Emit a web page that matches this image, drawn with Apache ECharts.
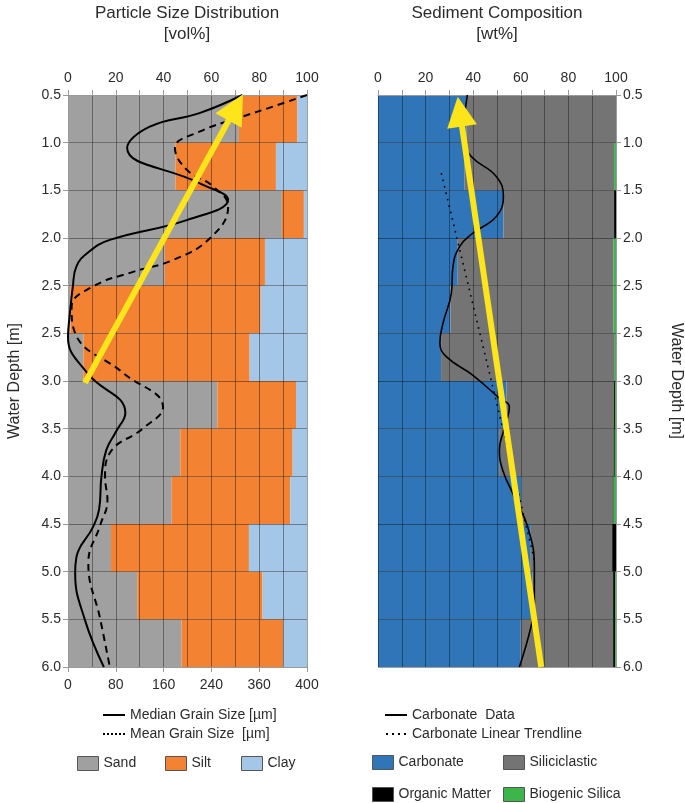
<!DOCTYPE html>
<html>
<head>
<meta charset="utf-8">
<script src="https://cdn.jsdelivr.net/npm/echarts@6/dist/echarts.min.js"></script>
<style>html,body{margin:0;padding:0;background:#fff;}#c{width:685px;height:803px;}</style>
</head>
<body>
<div id="c"></div>
<script>
// ---------- data ----------
const depthLabels = ['0.5','1.0','1.5','2.0','2.5','2.5','3.0','3.5','4.0','4.5','5.0','5.5','6.0'];
const intervals = ['i1','i2','i3','i4','i5','i6','i7','i8','i9','i10','i11','i12'];
const grainTicks = ['0','80','160','240','360','400'];

// Particle size distribution [vol%]
const sand = [71.5, 45, 89.5, 40.5, 1, 6.5, 62.5, 47, 43.4, 18, 29, 47.5];
const silt = [24.5, 42, 9.2, 41.9, 79.6, 69.5, 32.9, 47, 49.6, 57.7, 52.4, 42.5];
const clay = [4, 13, 1.3, 17.6, 19.4, 24, 4.6, 6, 7, 24.3, 18.6, 10];

// Grain size curves (depth position in interval units, size in µm)
const medianDepth = [0, 0.38, 0.67, 1.11, 1.85, 2.2, 2.62, 3.04, 3.3, 3.6, 4.03, 4.6, 5.08, 5.83, 6.67, 7.07, 7.45, 8.0, 8.7, 9.06, 9.7, 10.03, 11.0, 12.0];
const medianSize  = [292, 220, 136, 99, 220, 268, 200, 70, 34, 14, 8, 3, 0, 32, 96, 80, 64, 56, 52, 42, 14, 12, 28, 60];
const meanDepth = [0, 0.24, 0.47, 0.77, 1.11, 1.57, 1.92, 2.34, 3.0, 3.46, 3.71, 4.03, 4.45, 5.0, 5.83, 6.55, 6.99, 7.51, 8.01, 8.5, 9.02, 9.82, 11.0, 12.0];
const meanSize  = [400, 344, 288, 220, 179, 199, 243, 268, 238, 176, 109, 40, 6, 12, 92, 159, 126, 70, 62, 66, 54, 34, 54, 70];

// Sediment composition [wt%]
const carbonate     = [37.2, 36.4, 52.7, 33.5, 30.4, 26.5, 54, 50.9, 60.3, 64.2, 64.9, 60];
const siliciclastic = [62.8, 62.8, 46.5, 65.5, 68.6, 73, 45.2, 48.1, 38.3, 34.2, 33.9, 38.8];
const organic       = [0, 0, 0.8, 0, 0, 0, 0.4, 0.5, 0.4, 1.6, 0.8, 0.8];
const biosilica     = [0, 0.8, 0, 1, 1, 0.5, 0.4, 0.5, 1.0, 0, 0.4, 0.4];

const carbDepth = [0, 0.94, 1.29, 1.71, 2.13, 2.55, 2.9, 3.18, 3.6, 4.16, 4.79, 5.2, 5.49, 5.88, 6.36, 6.54, 6.89, 7.45, 7.87, 8.43, 9.06, 9.9, 10.66, 11.15, 12];
const carbValue = [37.5, 36, 39.2, 49.7, 52.7, 49.7, 39.9, 34.3, 31.5, 30.8, 27.3, 26, 28.7, 39.9, 51, 55.2, 53.8, 51, 52.4, 57.3, 62.9, 65.7, 65.7, 64.3, 59.4];
const trendDepth = [1.64, 9.75];
const trendValue = [26.6, 65.7];

// Annotation arrows (value %, depth position): tail, head
const arrowLeft  = [[7.1, 6.04], [70.2, 0.26]];
const arrowRight = [[68.6, 12], [34.4, 0.35]];

// ---------- chart ----------
const FONT = '"Liberation Sans", Arial, sans-serif';
const TXT = '#2b2b2b';
const C = {sand:'#a0a0a0', silt:'#f38232', clay:'#a4c6e7', carb:'#2f75b7', sili:'#747474', om:'#000000', bsi:'#3cb54a', yellow:'#fde41b'};
const gridLine = {show:true, lineStyle:{color:'rgba(0,0,0,0.38)', width:1}};

const ICON_SOLID = 'path://M0,0h22v2h-22z';
const ICON_DOTS6 = 'path://M0,0h2v2h-2zM4,0h2v2h-2zM8,0h2v2h-2zM12,0h2v2h-2zM16,0h2v2h-2zM20,0h2v2h-2z';
const ICON_DOTS4 = 'path://M0,0h2v2h-2zM6,0h2v2h-2zM12,0h2v2h-2zM18,0h2v2h-2z';

const zip = (a,b) => a.map((v,i)=>[v,b[i]]);

function valueY(gridIndex, position, name, rotate, gap) {
  return {
    type:'value', gridIndex, position, inverse:true, min:0, max:12, interval:1, z:5,
    name, nameLocation:'middle', nameRotate:rotate, nameGap:gap,
    nameTextStyle:{fontSize:16, color:TXT, fontFamily:FONT},
    axisLine:{show:true, lineStyle:{color:'#9a9a9a'}},
    axisTick:{show:true, length:5, lineStyle:{color:'#9a9a9a'}},
    axisLabel:{fontSize:14, color:TXT, fontFamily:FONT, margin:7, formatter:(v)=>depthLabels[v] ?? ''},
    splitLine:gridLine
  };
}
function topX(gridIndex) {
  return {
    type:'value', gridIndex, position:'top', min:0, max:100, interval:10, z:5,
    axisLine:{show:true, lineStyle:{color:'#9a9a9a'}},
    axisTick:{show:true, length:5, lineStyle:{color:'#9a9a9a'}},
    axisLabel:{fontSize:14, color:TXT, fontFamily:FONT, margin:10, formatter:(v)=> (v%20===0 ? String(v) : '')},
    splitLine:gridLine
  };
}
function boxLegend(name, left, top) {
  return {
    data:[name], left, top, padding:0, icon:'rect', itemWidth:21, itemHeight:14, itemGap:0,
    itemStyle:{borderColor:'#555', borderWidth:1},
    textStyle:{fontSize:14, color:TXT, fontFamily:FONT},
    selectedMode:false
  };
}
function lineLegend(items, left, top) {
  return {
    data:items, left, top, padding:0, orient:'vertical', itemWidth:22, itemHeight:2, itemGap:5,
    itemStyle:{color:'#000', borderWidth:0},
    textStyle:{fontSize:14, color:TXT, fontFamily:FONT},
    selectedMode:false
  };
}

const option = {
  animation:false,
  backgroundColor:'#fff',
  textStyle:{fontFamily:FONT},
  title:[
    {text:'Particle Size Distribution\n[vol%]', left:187, top:3, padding:0, textAlign:'center',
     textStyle:{fontSize:17, fontWeight:'normal', color:TXT, fontFamily:FONT, lineHeight:21}},
    {text:'Sediment Composition\n[wt%]', left:497, top:3, padding:0, textAlign:'center',
     textStyle:{fontSize:17, fontWeight:'normal', color:TXT, fontFamily:FONT, lineHeight:21}}
  ],
  grid:[
    {left:68, top:95, width:239, height:572},
    {left:378, top:95, width:239, height:572}
  ],
  xAxis:[
    topX(0),
    {type:'value', gridIndex:0, position:'bottom', min:0, max:400, interval:80, z:5,
     axisLine:{show:true, lineStyle:{color:'#9a9a9a'}},
     axisTick:{show:true, length:5, lineStyle:{color:'#9a9a9a'}},
     axisLabel:{fontSize:14, color:TXT, fontFamily:FONT, margin:11, formatter:(v)=>grainTicks[Math.round(v/80)] ?? ''},
     splitLine:{show:false}},
    topX(1)
  ],
  yAxis:[
    {type:'category', gridIndex:0, data:intervals, inverse:true, show:false},
    valueY(0, 'left', 'Water Depth [m]', 90, 45),
    {type:'category', gridIndex:1, data:intervals, inverse:true, show:false},
    valueY(1, 'right', 'Water Depth [m]', -90, 52)
  ],
  legend:[
    lineLegend([{name:'Median Grain Size [µm]', icon:ICON_SOLID},{name:'Mean Grain Size  [µm]', icon:ICON_DOTS6}], 103, 708),
    boxLegend('Sand', 77, 756),
    boxLegend('Silt', 165, 756),
    boxLegend('Clay', 241, 756),
    lineLegend([{name:'Carbonate  Data', icon:ICON_SOLID},{name:'Carbonate Linear Trendline', icon:ICON_DOTS4}], 385, 708),
    boxLegend('Carbonate', 372, 755),
    boxLegend('Siliciclastic', 503, 755),
    boxLegend('Organic Matter', 372, 787),
    boxLegend('Biogenic Silica', 503, 787)
  ],
  series:[
    {name:'Sand', type:'bar', stack:'psd', xAxisIndex:0, yAxisIndex:0, data:sand, barWidth:'100%', barCategoryGap:0, itemStyle:{color:C.sand}},
    {name:'Silt', type:'bar', stack:'psd', xAxisIndex:0, yAxisIndex:0, data:silt, barWidth:'100%', itemStyle:{color:C.silt}},
    {name:'Clay', type:'bar', stack:'psd', xAxisIndex:0, yAxisIndex:0, data:clay, barWidth:'100%', itemStyle:{color:C.clay}},
    {name:'Median Grain Size [µm]', type:'line', xAxisIndex:1, yAxisIndex:1, data:zip(medianSize, medianDepth),
     smooth:0.45, showSymbol:false, symbol:'none', z:10, lineStyle:{color:'#000', width:2}, itemStyle:{color:'#000'}},
    {name:'Mean Grain Size  [µm]', type:'line', xAxisIndex:1, yAxisIndex:1, data:zip(meanSize, meanDepth),
     smooth:0.45, showSymbol:false, symbol:'none', z:10, lineStyle:{color:'#000', width:2, type:[7,5]}, itemStyle:{color:'#000'}},

    {name:'Carbonate', type:'bar', stack:'sed', xAxisIndex:2, yAxisIndex:2, data:carbonate, barWidth:'100%', itemStyle:{color:C.carb}},
    {name:'Siliciclastic', type:'bar', stack:'sed', xAxisIndex:2, yAxisIndex:2, data:siliciclastic, barWidth:'100%', itemStyle:{color:C.sili}},
    {name:'Organic Matter', type:'bar', stack:'sed', xAxisIndex:2, yAxisIndex:2, data:organic, barWidth:'100%', itemStyle:{color:C.om}},
    {name:'Biogenic Silica', type:'bar', stack:'sed', xAxisIndex:2, yAxisIndex:2, data:biosilica, barWidth:'100%', itemStyle:{color:C.bsi}},
    {name:'Carbonate  Data', type:'line', xAxisIndex:2, yAxisIndex:3, data:zip(carbValue, carbDepth),
     smooth:0.45, showSymbol:false, symbol:'none', z:10, lineStyle:{color:'#000', width:1.6}, itemStyle:{color:'#000'}},
    {name:'Carbonate Linear Trendline', type:'line', xAxisIndex:2, yAxisIndex:3, data:zip(trendValue, trendDepth),
     showSymbol:false, symbol:'none', z:10, lineStyle:{color:'#000', width:1.6, type:[1.6,5]}, itemStyle:{color:'#000'}},

    {type:'lines', coordinateSystem:'cartesian2d', xAxisIndex:0, yAxisIndex:1, z:20, silent:true,
     symbol:['none','triangle'], symbolSize:30,
     lineStyle:{color:C.yellow, width:6, opacity:1},
     data:[{coords:arrowLeft}]},
    {type:'lines', coordinateSystem:'cartesian2d', xAxisIndex:2, yAxisIndex:3, z:20, silent:true,
     symbol:['none','triangle'], symbolSize:30,
     lineStyle:{color:C.yellow, width:6, opacity:1},
     data:[{coords:arrowRight}]}
  ]
};
const chart = echarts.init(document.getElementById('c'), null, {renderer:'canvas'});
chart.setOption(option);
</script>
</body>
</html>
